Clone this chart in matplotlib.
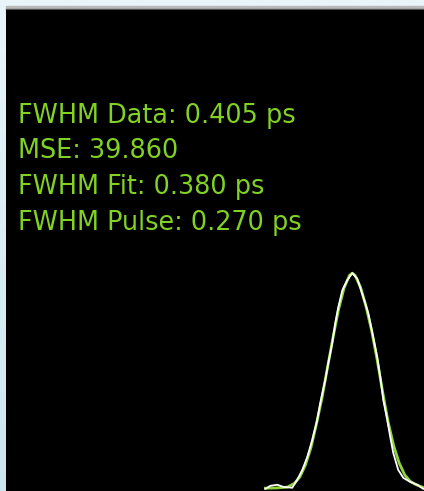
import numpy as np
import matplotlib
matplotlib.use("Agg")
import matplotlib.pyplot as plt
from matplotlib.patches import Rectangle

# measured autocorrelation trace (time in ps, normalised intensity)
data_t = [-0.630, -0.594, -0.543, -0.500, -0.435, -0.399, -0.362, -0.326, -0.290,
          -0.254, -0.232, -0.196, -0.174, -0.145, -0.123, -0.101, -0.072, -0.036,
          0.000, 0.036, 0.080, 0.116, 0.152, 0.181, 0.203, 0.225, 0.254, 0.275,
          0.297, 0.333, 0.370, 0.420, 0.471, 0.514]
data_y = [0.000, 0.014, 0.019, 0.009, 0.005, 0.042, 0.088, 0.148, 0.227,
          0.319, 0.398, 0.505, 0.583, 0.676, 0.769, 0.843, 0.921, 0.968,
          1.000, 0.975, 0.889, 0.815, 0.704, 0.611, 0.519, 0.412, 0.319, 0.241,
          0.167, 0.088, 0.051, 0.032, 0.019, 0.000]

# fitted curve
fit_t = [-0.63, -0.55, -0.47, -0.42, -0.38, -0.34, -0.30, -0.26, -0.22, -0.18,
         -0.14, -0.10, -0.06, -0.02, 0.00, 0.02, 0.06, 0.10, 0.14, 0.18,
         0.22, 0.26, 0.30, 0.34, 0.38, 0.42, 0.46, 0.52]
fit_y = [0.003, 0.004, 0.008, 0.025, 0.055, 0.110, 0.190, 0.300, 0.420, 0.560,
         0.700, 0.830, 0.930, 0.990, 1.000, 0.990, 0.935, 0.845, 0.735, 0.600,
         0.450, 0.310, 0.200, 0.120, 0.065, 0.035, 0.020, 0.005]

info_lines = ["FWHM Data: 0.405 ps", "MSE: 39.860", "FWHM Fit: 0.380 ps", "FWHM Pulse: 0.270 ps"]

W, H = 424, 491
fig = plt.figure(figsize=(W / 100, H / 100), dpi=100)

# light blue window background (vertical gradient)
bg = fig.add_axes([0, 0, 1, 1], zorder=0)
grad = np.linspace(0, 1, 256).reshape(-1, 1)
bg.imshow(grad, aspect="auto", cmap=matplotlib.colors.LinearSegmentedColormap.from_list(
    "bgc", ["#e9f5f9", "#cce6ef"]), extent=[0, 1, 0, 1], origin="upper")
bg.set_axis_off()

# grey frame strip above the plot
fig.patches.append(Rectangle((6 / W, 1 - 9 / H), 1, 3 / H, transform=fig.transFigure,
                             color="#b8b8b8", zorder=1))
fig.patches.append(Rectangle((6 / W, 1 - 10 / H), 1, 1 / H, transform=fig.transFigure,
                             color="#505050", zorder=1))

ax = fig.add_axes([6 / W, 0, 1 - 6 / W, 1 - 10 / H], zorder=2)
ax.set_facecolor("black")
ax.plot(fit_t, fit_y, color="#8fd43a", lw=2.0)
ax.plot(data_t, data_y, color="white", lw=1.3)
ax.set_xlim(-2.51, 0.52)
ax.set_ylim(-0.01, 2.22)
ax.set_axis_off()
ax.add_patch(Rectangle((0, 0), 1, 1, transform=ax.transAxes, color="black", zorder=-1))

baselines = [123, 158, 194, 230]
for txt, yb in zip(info_lines, baselines):
    fig.text(18 / W, 1 - yb / H, txt, color="#82d224", fontsize=18.4,
             family="DejaVu Sans", va="baseline", ha="left", zorder=5)

fig.savefig("out.png", dpi=100)
